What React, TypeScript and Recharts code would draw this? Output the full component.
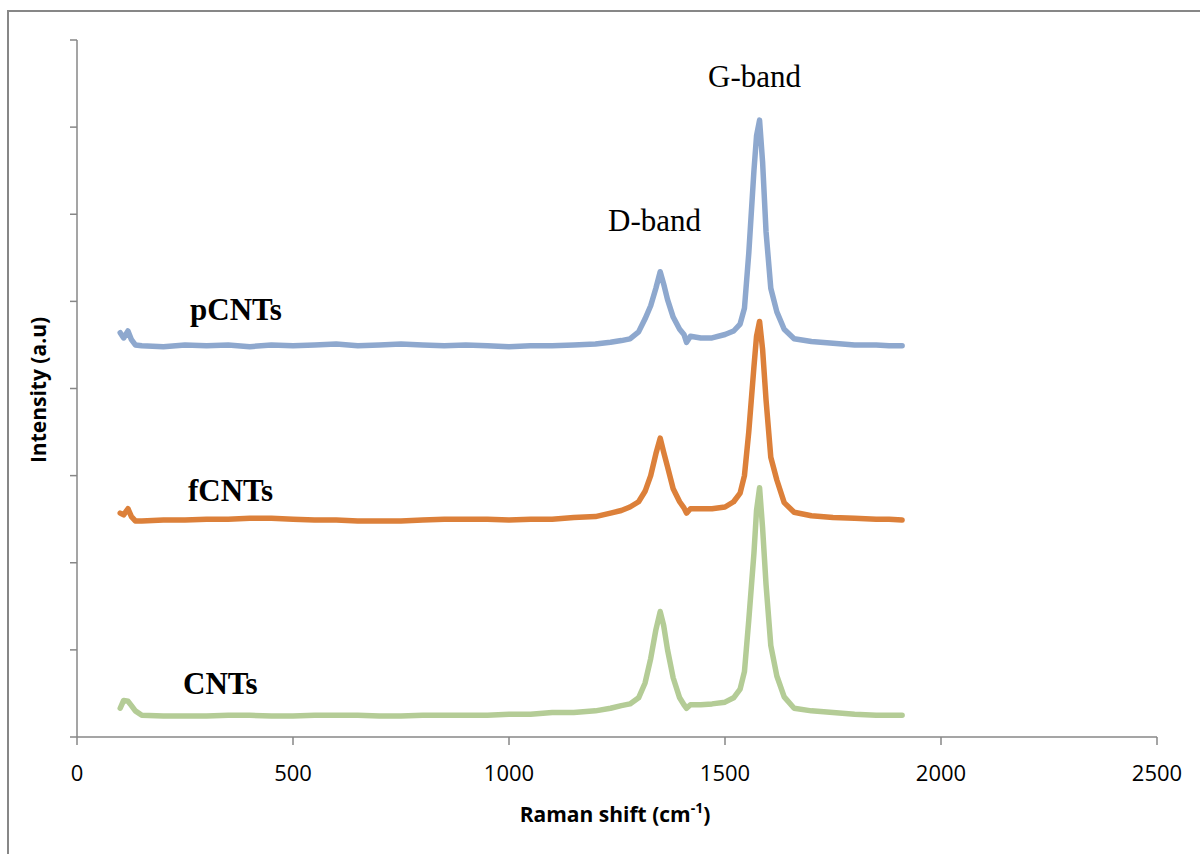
import { LineChart, Line, XAxis, YAxis } from 'recharts';

// Raman shift (cm-1) sample positions
const shift = [
  100, 108, 118, 126, 135, 150, 200, 250, 300, 350, 400, 450, 500, 550, 600, 650, 700, 750, 800, 850,
  900, 950, 1000, 1050, 1100, 1150, 1200, 1235, 1260, 1280, 1300, 1315, 1328, 1340, 1350, 1358, 1367,
  1380, 1395, 1405, 1411, 1420, 1444, 1470, 1500, 1520, 1535, 1545, 1555, 1567, 1573, 1580, 1587, 1595,
  1606, 1620, 1637, 1660, 1700, 1750, 1800, 1850, 1880, 1910,
];

const pCNTs = [
  4.64, 4.58, 4.66, 4.56, 4.5, 4.49, 4.48, 4.5, 4.49, 4.5, 4.48, 4.5, 4.49, 4.5, 4.51, 4.49, 4.5, 4.51, 4.5, 4.49,
  4.5, 4.49, 4.48, 4.49, 4.49, 4.5, 4.51, 4.53, 4.55, 4.57, 4.65, 4.8, 4.95, 5.15, 5.34, 5.2, 5.02,
  4.82, 4.68, 4.62, 4.53, 4.6, 4.58, 4.58, 4.62, 4.66, 4.74, 4.92, 5.55, 6.5, 6.9, 7.08, 6.6, 5.8,
  5.15, 4.88, 4.68, 4.57, 4.54, 4.52, 4.5, 4.5, 4.49, 4.49,
];

const fCNTs = [
  2.57, 2.55, 2.62, 2.53, 2.48, 2.48, 2.49, 2.49, 2.5, 2.5, 2.51, 2.51, 2.5, 2.49, 2.49, 2.48, 2.48, 2.48, 2.49, 2.5,
  2.5, 2.5, 2.49, 2.5, 2.5, 2.52, 2.53, 2.57, 2.6, 2.64, 2.7, 2.82, 3.0, 3.25, 3.43, 3.27, 3.1,
  2.85, 2.7, 2.63, 2.57, 2.62, 2.62, 2.62, 2.64, 2.7, 2.8, 3.0, 3.5, 4.25, 4.6, 4.77, 4.45, 3.87,
  3.21, 2.95, 2.69, 2.58, 2.54, 2.52, 2.51, 2.5, 2.5, 2.49,
];

const CNTs = [
  0.33, 0.42, 0.41, 0.36, 0.3, 0.25, 0.24, 0.24, 0.24, 0.25, 0.25, 0.24, 0.24, 0.25, 0.25, 0.25, 0.24, 0.24, 0.25, 0.25,
  0.25, 0.25, 0.26, 0.26, 0.28, 0.28, 0.3, 0.33, 0.36, 0.38, 0.45, 0.62, 0.9, 1.23, 1.44, 1.28, 1.0,
  0.68, 0.45, 0.37, 0.33, 0.37, 0.37, 0.38, 0.4, 0.45, 0.55, 0.75, 1.34, 2.11, 2.6, 2.86, 2.4, 1.75,
  1.05, 0.7, 0.46, 0.33, 0.3, 0.28, 0.26, 0.25, 0.25, 0.25,
];

const xTicks = [0, 500, 1000, 1500, 2000, 2500];
const yTicks = [0, 1, 2, 3, 4, 5, 6, 7, 8];

const data = shift.map((x, i) => ({ x, p: pCNTs[i], f: fCNTs[i], c: CNTs[i] }));

const axisGray = '#878787';
const serif = '"Liberation Serif", "Times New Roman", serif';
const sans = '"Open Sans", sans-serif';

// y axis keeps its tick marks but shows no numbers
const NoLabel = () => <g />;

export default function App() {
  return (
    <div style={{ position: 'absolute', left: 0, top: 0, width: 1200, height: 854, background: '#fff' }}>
      {/* frame: only top and left edges show */}
      <div
        style={{
          position: 'absolute',
          left: 7,
          top: 10,
          width: 1210,
          height: 860,
          borderLeft: `2px solid ${axisGray}`,
          borderTop: `2px solid ${axisGray}`,
        }}
      />
      <LineChart
        width={1200}
        height={854}
        data={data}
        margin={{ top: 40, left: 67, right: 43, bottom: 77 }}
        style={{ position: 'absolute', left: 0, top: 0 }}
      >
        <XAxis
          dataKey="x"
          type="number"
          domain={[0, 2500]}
          ticks={xTicks}
          height={40}
          stroke={axisGray}
          strokeWidth={1.5}
          tickSize={8}
          tickMargin={20}
          tick={{ fill: '#000', fontSize: 22, fontFamily: sans }}
        />
        <YAxis
          type="number"
          domain={[0, 8]}
          ticks={yTicks}
          width={10}
          stroke={axisGray}
          strokeWidth={1.5}
          tickSize={7}
          tick={NoLabel}
        />
        <Line dataKey="p" type="linear" stroke="#8EA8CE" strokeWidth={5.5} dot={false} isAnimationActive={false} strokeLinejoin="round" strokeLinecap="round" />
        <Line dataKey="f" type="linear" stroke="#DC803A" strokeWidth={5.5} dot={false} isAnimationActive={false} strokeLinejoin="round" strokeLinecap="round" />
        <Line dataKey="c" type="linear" stroke="#B4CC96" strokeWidth={5.5} dot={false} isAnimationActive={false} strokeLinejoin="round" strokeLinecap="round" />
      </LineChart>
      <svg width={1200} height={854} style={{ position: 'absolute', left: 0, top: 0, pointerEvents: 'none' }}>
        <text x={708} y={87} fontFamily={serif} fontSize={31} fill="#000">G-band</text>
        <text x={608} y={231} fontFamily={serif} fontSize={31} fill="#000">D-band</text>
        <text x={190} y={320} fontFamily={serif} fontSize={31} fontWeight="bold" fill="#000">pCNTs</text>
        <text x={188} y={501} fontFamily={serif} fontSize={31} fontWeight="bold" fill="#000">fCNTs</text>
        <text x={183} y={694} fontFamily={serif} fontSize={31} fontWeight="bold" fill="#000">CNTs</text>
        <text
          x={0}
          y={0}
          transform="translate(46 390) rotate(-90)"
          textAnchor="middle"
          fontFamily={sans}
          fontSize={21}
          fontWeight="bold"
          fill="#000"
        >
          Intensity (a.u)
        </text>
        <text x={615} y={822} textAnchor="middle" fontFamily={sans} fontSize={21} fontWeight="bold" fill="#000">
          Raman shift (cm
          <tspan fontSize={14} dy={-9}>-1</tspan>
          <tspan dy={9}>)</tspan>
        </text>
      </svg>
    </div>
  );
}
